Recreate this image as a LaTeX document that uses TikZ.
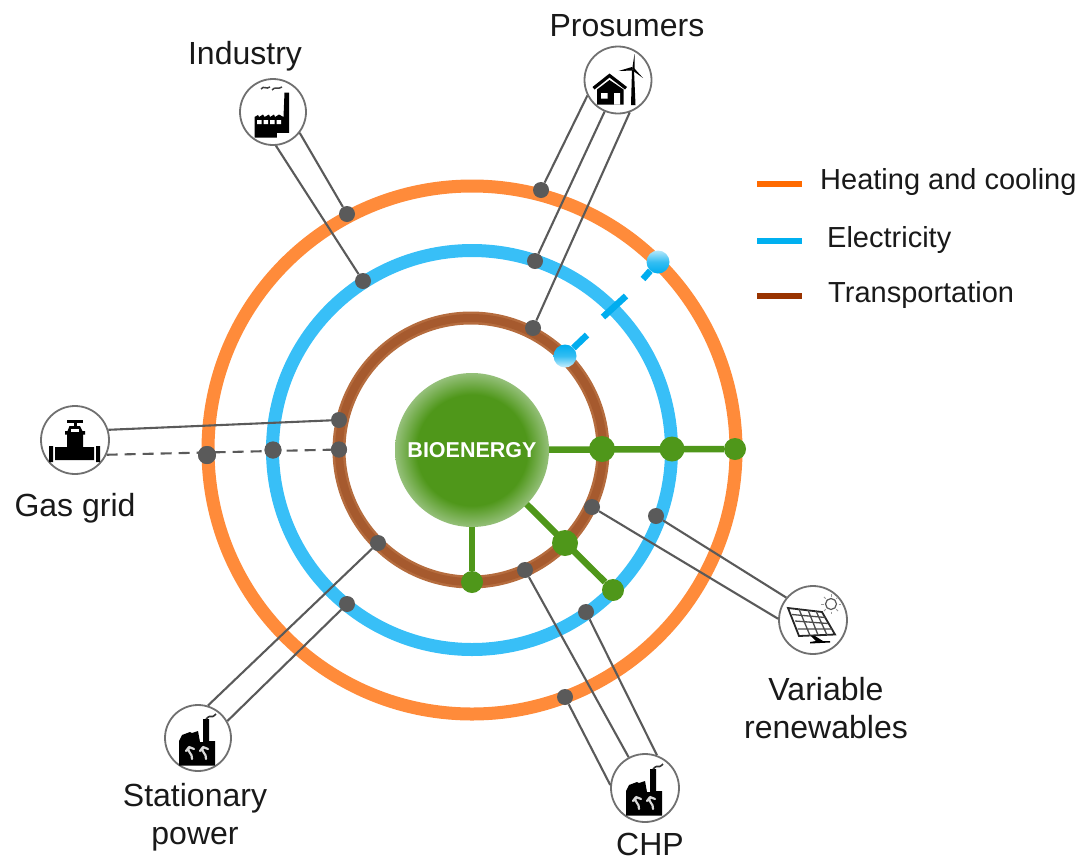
\documentclass[tikz,border=0pt]{standalone}
\usepackage{fontspec}
\setmainfont{Liberation Sans}
\definecolor{cOrange}{HTML}{FF8B3A}
\definecolor{cBlue}{HTML}{38BFF7}
\definecolor{cBrownE}{HTML}{B56C3E}
\definecolor{cBrown}{HTML}{A65A2E}
\definecolor{cGreen}{HTML}{4F971A}
\definecolor{cGreenL}{HTML}{95C07A}
\definecolor{cGray}{HTML}{5A5A5A}
\definecolor{cHub}{HTML}{707070}
\definecolor{kOrange}{HTML}{FF6A00}
\definecolor{kBlue}{HTML}{00B0F0}
\definecolor{kBrown}{HTML}{993300}
\definecolor{cStub}{HTML}{00ADEF}
\pgfdeclareradialshading{bioshade}{\pgfpoint{0bp}{0bp}}{color(0bp)=(cGreen);color(18bp)=(cGreen);color(25bp)=(cGreenL);color(50bp)=(cGreenL)}
\tikzset{
  x=1pt,y=-1pt,
  ring/.style={circle,draw=#1,line width=13pt,fill=none,inner sep=0pt},
  ringcore/.style={circle,draw=#1,line width=8pt,fill=none,inner sep=0pt},
  hub/.style={circle,draw=cHub,line width=1.8pt,fill=white,inner sep=0pt,minimum size=66pt},
  dot/.style={circle,fill=cGray,draw=none,inner sep=0pt,minimum size=#1},
  dot/.default=16pt,
  gdot/.style={circle,fill=cGreen,draw=none,inner sep=0pt,minimum size=#1},
  link/.style={cGray,line width=2.1pt},
  glink/.style={cGreen,line width=6.5pt},
  stub/.style={cStub,line width=6.5pt},
  keyline/.style={line width=5.5pt},
  lbl/.style={font=\fontsize{32}{38}\selectfont,align=center,text=black!90,inner sep=0pt},
  keytxt/.style={font=\fontsize{29}{34}\selectfont,anchor=west,text=black!90,inner sep=0pt},
  ico/.style={fill=black,draw=none},
  icow/.style={fill=white,draw=none},
  plant/.pic={
    \path[ico] (-19,27.5) -- (-19,3) -- (-16,-3) -- (-8,-6) -- (-6,-5) -- (0,-7) -- (2,4) -- (5,4) -- (5,-19) -- (11,-19) -- (11,3) -- (17,3) -- (17,27.5) -- cycle;
    \draw[black!80,line width=1.6pt] (8,-19) .. controls (14,-25) and (12,-18) .. (18,-24);
    \draw[white!85!black,line width=2.2pt,line cap=round] (-6,21) .. controls (-5,15) and (-12,14) .. (-9,9) (-9,9) -- (-12,13) (-9,9) -- (-4,11);
    \draw[white!85!black,line width=2.2pt,line cap=round] (8,21) .. controls (9,15) and (2,14) .. (5,9) (5,9) -- (2,13) (5,9) -- (10,11);
  },
}
\begin{document}
\begin{tikzpicture}
\useasboundingbox (0,0) rectangle (1079,860);
% rings
\node[ring=cOrange,minimum size=528pt] (rO) at (472,450) {};
\node[ring=cBlue,minimum size=399pt] (rB) at (472,450) {};
\node[ring=cBrownE,minimum size=264pt] (rT) at (471,450) {};
\node[ringcore=cBrown,minimum size=264pt] (rT2) at (471,450) {};
% hubs
\node[hub] (ind) at (273,112) {};
\node[hub,minimum size=67pt] (pro) at (618,80) {};
\node[hub,minimum size=68pt] (gas) at (75,440) {};
\node[hub,minimum size=68pt] (sol) at (813,620) {};
\node[hub,minimum size=68pt] (chp) at (645,788) {};
\node[hub] (sta) at (198,738) {};
% dots
\node[dot] (p1) at (541,190) {};
\node[dot] (p2) at (535,261) {};
\node[dot] (p3) at (533,328) {};
\node[dot] (i1) at (347,214) {};
\node[dot] (i2) at (363,281) {};
\node[dot] (g1) at (339,420) {};
\node[dot] (g2) at (339,449.5) {};
\node[dot=17pt] (g3) at (273,450) {};
\node[dot=18pt] (g4) at (207,455) {};
\node[dot] (s1) at (592,507) {};
\node[dot] (s2) at (656,516) {};
\node[dot] (c1) at (525,570) {};
\node[dot] (c2) at (586,612) {};
\node[dot] (c3) at (565,697) {};
\node[dot] (t1) at (378,543) {};
\node[dot] (t2) at (347,604) {};
% links
\draw[link] (pro.207) -- (p1);
\draw[link] (pro.247) -- (p2);
\draw[link] (pro.290) -- (p3);
\draw[link] (ind.-38) -- (i1);
\draw[link] (ind.-85) -- (i2);
\draw[link] (gas.17) -- (g1);
\draw[link,dashed,dash pattern=on 11pt off 7pt] (gas.-25) -- (g2);
\draw[link] (s2) -- (sol.140);
\draw[link] (s1) -- (sol.178);
\draw[link] (c1) -- (chp.118);
\draw[link] (c2) -- (chp.70);
\draw[link] (c3) -- (chp.175);
\draw[link] (t1) -- (sta.73);
\draw[link] (t2) -- (sta.30);
\node[dot=18pt] at (g4) {};
\node[dot=17pt] at (g3) {};
\node[dot] at (g2) {};
% Bioenergy links
\node[gdot=26pt] (e1) at (602,449) {};
\node[gdot=25pt] (e2) at (672,449) {};
\node[gdot=22pt] (e3) at (735,449) {};
\node[gdot=22pt] (e4) at (472,582) {};
\node[gdot=26pt] (e5) at (565,543) {};
\node[gdot=22pt] (e6) at (613,590) {};
\node[circle,minimum size=154pt,inner sep=0pt] (bio) at (472,450) {};
\draw[glink] (bio.center) -- (e3);
\draw[glink] (bio.center) -- (e4);
\draw[glink] (bio.center) -- (e6);
\shade[shading=bioshade] (472,450) circle (77);
\node[font=\fontsize{21.5}{26}\selectfont\bfseries,text=white,inner sep=0pt] at (bio) {BIOENERGY};
% electricity crossing
\node[circle,inner sep=0pt,minimum size=23pt,top color=cStub!30,bottom color=cStub,middle color=cStub!80] (b1) at (658,262) {};
\node[circle,inner sep=0pt,minimum size=23pt,top color=cStub,bottom color=cStub!20,middle color=cStub!80] (b2) at (565,356) {};
\coordinate (b1e) at (643,279);
\coordinate (b2e) at (587,335);
\coordinate (m1) at (603,317);
\coordinate (m2) at (626,296);
\draw[stub] (b1) -- (b1e);
\draw[stub] (b2) -- (b2e);
\draw[stub] (m1) -- (m2);
% Industry icon
\begin{scope}[shift={(273,112)}]
  \path[ico] (-18.5,25.5) -- (-18.5,5) -- (-15,3) -- (-14,5) -- (-10,2.5) -- (-8.5,5) -- (-4,2.5) -- (-3,5) -- (1,2.5) -- (2,5) -- (6,2.5) -- (10.5,5) -- (11.5,-19.5) -- (16,-19.5) -- (16,25.5) -- cycle;
  \path[icow] (-16,8) rectangle (-11.5,12) (-9.5,8) rectangle (-5,12) (-3,8) rectangle (1.5,12) (3.5,8) rectangle (8,12);
  \path[icow] (4,21) rectangle (16.5,26);
  \draw[black!75,line width=1.5pt] (-12,-23) .. controls (-9,-27) and (-7,-22) .. (-3,-25);
  \draw[black!75,line width=1.5pt] (-1,-22) .. controls (2,-26) and (5,-22) .. (9,-25);
\end{scope}
% Prosumers icon
\begin{scope}[shift={(618,80)}]
  \path[ico] (-8.5,-6.5) -- (-25.5,7) -- (-23.5,9.5) -- (-8.5,-2.5) -- (7,9.5) -- (9,7) -- cycle;
  \path[ico] (-21,9.5) -- (-8.5,0) -- (5.5,9.5) -- (5.5,24.5) -- (-21,24.5) -- cycle;
  \path[icow] (-17,13) rectangle (-10.5,18.5) (-4,13) rectangle (2,24.6);
  \path[ico] (14,-10) -- (16,-10) -- (17.5,25) -- (13,25) -- cycle;
  \path[ico] (14.2,-11) -- (16.5,-26) -- (16.6,-11) -- cycle;
  \path[ico] (15,-9.5) -- (0.5,-9) -- (14,-13) -- cycle;
  \path[ico] (16,-12) -- (25,-2) -- (14.5,-9.5) -- cycle;
\end{scope}
% Gas grid icon
\begin{scope}[shift={(75,440)}]
  \path[ico] (-8.5,-20.5) rectangle (8,-17.5);
  \path[ico] (-1.5,-18) rectangle (2,-13);
  \path[ico] (-5.5,-14) -- (5,-14) -- (7.5,-9) -- (10,-9) -- (10,-5.5) -- (8,-5.5) -- (8,7) -- (19,7) -- (19,20) -- (-20,20) -- (-20,7) -- (-8,7) -- (-8,-5.5) -- (-10,-5.5) -- (-10,-9) -- (-7.5,-9) -- cycle;
  \path[icow] (-4,-11.5) rectangle (4,-8.5);
  \path[ico] (-26,6) rectangle (-22,22) (21,6) rectangle (25,22);
\end{scope}
% Variable renewables icon
\begin{scope}[shift={(813,620)}]
  \path[fill=white,draw=black!85,line width=1.8pt] (-25,-12) -- (9,-8) -- (22,14.5) -- (-14,16) -- cycle;
  \draw[black!70,line width=1.3pt] (-21,-5.5) -- (12.5,-2.5) (-18,1) -- (15,3.5) (-15.5,9) -- (19,9)
    (-14,-10.8) -- (-3,15.5) (-5,-10) -- (5,15) (3,-9) -- (14,15);
  \path[ico] (-2,16) -- (2,16) -- (10,21) -- (17,21) -- (17,22.5) -- (-3,23.5) -- (-3,22) -- (3,21) -- cycle;
  \draw[black!65,line width=1.2pt] (18,-16) circle (5.5);
  \foreach \a in {0,45,...,315} \draw[black!40,line width=.8pt] (18,-16) ++(\a:7.5) -- ++(\a:2.5);
\end{scope}
% Plant icons
\pic at (645,788) {plant};
\pic at (198,738) {plant};
% labels
\node[lbl] (lInd) at (245,56) {Industry};
\node[lbl] (lPro) at (627,26) {Prosumers};
\node[lbl] (lGas) at (75,508) {Gas grid};
\node[lbl] (lVar) at (826,708) {Variable\\renewables};
\node[lbl] (lSta) at (195,817) {Stationary\\power};
\node[lbl] (lChp) at (650,844) {CHP};
% legend
\coordinate (k1a) at (757,184); \coordinate (k1b) at (802,184);
\coordinate (k2a) at (757,241); \coordinate (k2b) at (802,241);
\coordinate (k3a) at (757,296); \coordinate (k3b) at (802,296);
\draw[keyline,kOrange] (k1a) -- (k1b);
\draw[keyline,kBlue] (k2a) -- (k2b);
\draw[keyline,kBrown] (k3a) -- (k3b);
\node[keytxt] (kt1) at (820,182) {Heating and cooling};
\node[keytxt] (kt2) at (827,240) {Electricity};
\node[keytxt] (kt3) at (828,295) {Transportation};
\end{tikzpicture}
\end{document}
